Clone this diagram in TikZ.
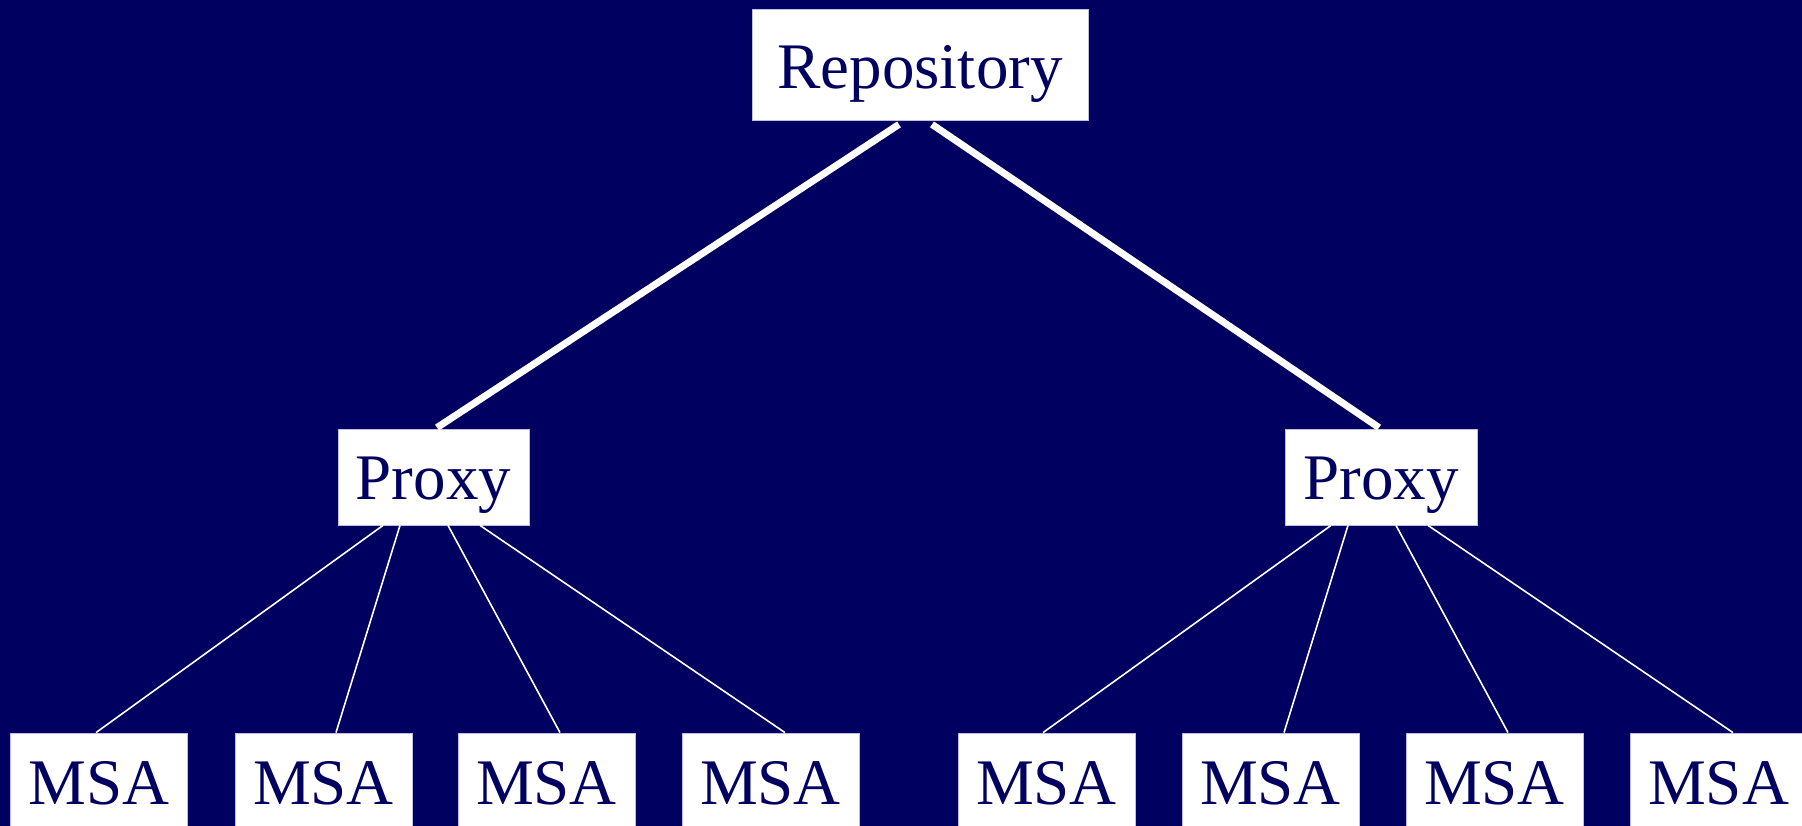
\documentclass[tikz,border=0pt]{standalone}
\usepackage{fontspec}
\setmainfont{Liberation Serif}
\usetikzlibrary{calc}
\definecolor{bgnavy}{RGB}{0,0,96}
\definecolor{edgelav}{RGB}{190,190,225}
\begin{document}
\begin{tikzpicture}[x=1pt,y=-1pt,
  box/.style={draw=edgelav,line width=0.8pt,fill=white,text=bgnavy,inner sep=0pt,
    font=\fontsize{65}{65}\selectfont,anchor=base},
  thick link/.style={draw=white,line width=7pt,line cap=butt},
  thin link/.style={draw=white,line width=1.6pt}]
\useasboundingbox (0,0) rectangle (1802,826);
\clip (0,0) rectangle (1802,826);
\fill[bgnavy] (0,0) rectangle (1802,826);

\node[box,minimum width=336pt,text height=80pt,text depth=31pt] (repo) at (920,89) {Repository};
\node[box,minimum width=191pt,text height=70pt,text depth=26pt] (pl) at (433.5,499) {Proxy};
\node[box,minimum width=192pt,text height=70pt,text depth=26pt] (pr) at (1381,499) {Proxy};

\foreach \i/\x in {1/99,2/323.5,3/546.5,4/770.5,5/1046.5,6/1270.5,7/1494.5,8/1718.5}{
  \node[box,minimum width=177pt,text height=71pt,text depth=40pt] (m\i) at (\x,804) {MSA};
}

\draw[thick link] ($(repo.south)+(-21,4)$) -- ($(pl.north)+(3.5,-1)$);
\draw[thick link] ($(repo.south)+(12,4)$) -- ($(pr.north)+(-2,-1)$);

\draw[thin link] ($(pl.south)+(-50.5,0)$) -- ($(m1.north)+(-3,0)$);
\draw[thin link] ($(pl.south)+(-33.5,0)$) -- ($(m2.north)+(12.5,0)$);
\draw[thin link] ($(pl.south)+(14.5,0)$) -- ($(m3.north)+(13.5,0)$);
\draw[thin link] ($(pl.south)+(46.5,0)$) -- ($(m4.north)+(14.5,0)$);
\draw[thin link] ($(pr.south)+(-50,0)$) -- ($(m5.north)+(-3.5,0)$);
\draw[thin link] ($(pr.south)+(-33,0)$) -- ($(m6.north)+(13.5,0)$);
\draw[thin link] ($(pr.south)+(15,0)$) -- ($(m7.north)+(13.5,0)$);
\draw[thin link] ($(pr.south)+(47,0)$) -- ($(m8.north)+(14.5,0)$);
\end{tikzpicture}
\end{document}
